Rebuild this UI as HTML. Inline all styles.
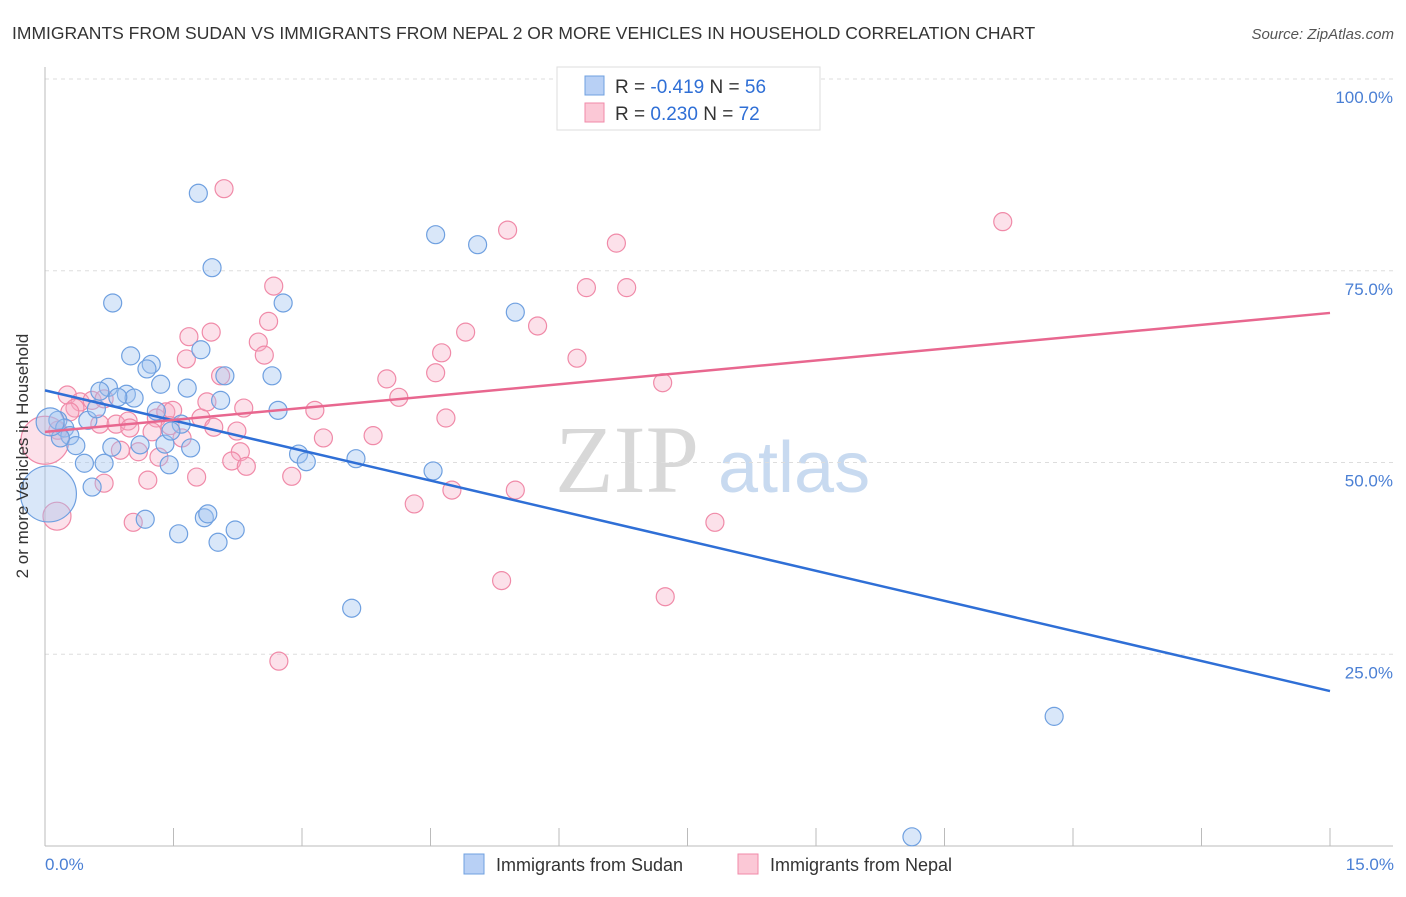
<!DOCTYPE html>
<html><head><meta charset="utf-8"><style>
body{margin:0;background:#fff;font-family:"Liberation Sans",sans-serif}
</style></head><body>
<svg id="c" width="1406" height="892" xmlns="http://www.w3.org/2000/svg">
<text x="12" y="39" font-size="17.5" fill="#333">IMMIGRANTS FROM SUDAN VS IMMIGRANTS FROM NEPAL 2 OR MORE VEHICLES IN HOUSEHOLD CORRELATION CHART</text>
<text x="1394" y="39" font-size="15" fill="#555" font-style="italic" text-anchor="end">Source: ZipAtlas.com</text>
<g><text x="555" y="492" font-size="96" font-family="Liberation Serif,serif" fill="#d8d8d8">ZIP</text><text x="718" y="492" font-size="72" fill="#c8daf0">atlas</text></g>
<g id="grid"></g><g id="axes"></g><g id="pts"></g><g id="lines"></g>
<text x="28" y="456" font-size="17" fill="#333" text-anchor="middle" transform="rotate(-90 28 456)">2 or more Vehicles in Household</text>
<text x="45" y="870" font-size="17" fill="#4a7fd4">0.0%</text>
<text x="1394" y="870" font-size="17" fill="#4a7fd4" text-anchor="end">15.0%</text>
<g>
<rect x="557" y="67" width="263" height="63" fill="#fff" stroke="#ddd"/>
<rect x="585" y="76" width="19" height="19" fill="#b8d0f5" stroke="#6fa0e0"/>
<rect x="585" y="103" width="19" height="19" fill="#fbc8d6" stroke="#f08aa8"/>
<text x="615" y="93" font-size="19" fill="#333">R = <tspan fill="#2f6fd6">-0.419</tspan>   N = <tspan fill="#2f6fd6">56</tspan></text>
<text x="615" y="120" font-size="19" fill="#333">R =  <tspan fill="#2f6fd6">0.230</tspan>   N = <tspan fill="#2f6fd6">72</tspan></text>
</g>
<g>
<rect x="464" y="854" width="20" height="20" fill="#b8d0f5" stroke="#6fa0e0"/>
<text x="496" y="871" font-size="18" fill="#333">Immigrants from Sudan</text>
<rect x="738" y="854" width="20" height="20" fill="#fbc8d6" stroke="#f08aa8"/>
<text x="770" y="871" font-size="18" fill="#333">Immigrants from Nepal</text>
</g>
</svg>
<script>
const yTicks=[25,50,75,100];
const yTickLabels=["25.0%","50.0%","75.0%","100.0%"];
const xTicks=[0,1.5,3,4.5,6,7.5,9,10.5,12,13.5,15];
const sudanX=[1.79,1.95,0.79,2.78,4.56,5.05,5.49,1.82,1.00,1.24,1.19,1.35,1.66,2.10,2.65,0.74,0.64,0.95,1.04,0.85,0.15,0.50,0.60,1.30,0.23,0.29,0.36,0.18,0.78,1.11,1.40,1.59,1.70,1.47,0.46,0.69,1.45,2.05,2.72,2.96,3.05,3.63,4.53,0.55,1.17,1.56,1.86,1.90,2.02,2.22,3.58,11.78,10.12,0.04,0.06];
const sudanY=[85.1,75.4,70.8,70.8,79.7,78.4,69.6,64.7,63.9,62.8,62.2,60.2,59.7,61.3,61.3,59.8,59.3,58.9,58.4,58.5,55.5,55.5,57.0,56.7,54.5,53.5,52.2,53.2,52.0,52.3,52.4,55.0,51.9,54.1,49.9,49.9,49.7,58.1,56.8,51.1,50.1,50.5,48.9,46.8,42.6,40.7,42.8,43.3,39.6,41.2,31.0,16.9,1.2,45.9,55.3];
const sudanR=[9,9,9,9,9,9,9,9,9,9,9,9,9,9,9,9,9,9,9,9,9,9,9,9,9,9,9,9,9,9,9,9,9,9,9,9,9,9,9,9,9,9,9,9,9,9,9,9,9,9,9,9,9,28,14];
const nepalX=[2.09,5.40,6.67,11.18,2.67,6.32,6.79,2.61,5.75,1.94,1.68,2.49,2.56,1.65,4.91,4.63,6.21,2.05,3.99,4.56,7.21,4.13,0.26,0.41,0.55,0.69,0.35,0.29,0.64,0.83,0.97,1.30,1.41,1.49,1.82,1.89,2.32,3.15,4.68,0.15,0.99,1.25,1.46,1.60,1.97,2.24,3.25,3.83,0.88,1.09,1.33,2.28,2.18,2.35,2.88,0.69,1.20,1.77,4.31,4.75,5.49,7.82,1.03,5.33,7.24,2.73,0.14,0.0];
const nepalY=[85.7,80.3,78.6,81.4,73.0,72.8,72.8,68.4,67.8,67.0,66.4,65.7,64.0,63.5,67.0,64.3,63.6,61.3,60.9,61.7,60.4,58.5,58.8,57.9,58.1,58.3,57.1,56.6,55.0,55.0,55.4,55.8,56.6,56.8,55.8,57.9,57.1,56.8,55.8,54.2,54.5,54.0,54.8,53.2,54.6,54.1,53.2,53.5,51.6,51.4,50.7,51.4,50.2,49.5,48.2,47.3,47.7,48.1,44.6,46.4,46.4,42.2,42.2,34.6,32.5,24.1,43.0,52.9];
const sudanTrend=[59.4,20.2];
const nepalTrend=[54.0,69.5];
const X0=45,X1=1330,Y0=846,YTOP=79;
const sx=v=>X0+(v-0)/15*(X1-X0);
const sy=v=>Y0-(v/100)*(Y0-YTOP);
const NS="http://www.w3.org/2000/svg";
function mk(t,a,p){const e=document.createElementNS(NS,t);for(const k in a)e.setAttribute(k,a[k]);p.appendChild(e);return e;}
const grid=document.getElementById('grid'),axes=document.getElementById('axes'),pts=document.getElementById('pts'),lines=document.getElementById('lines');
yTicks.forEach((t,i)=>{
 const l=mk('line',{x1:X0,x2:1393,y1:sy(t),y2:sy(t),stroke:'#ddd','stroke-dasharray':'4,4'},grid);
 
 
 const tx=mk('text',{x:1393,y:sy(t)+24,'font-size':17,fill:'#4a7fd4','text-anchor':'end'},grid);
 tx.textContent=yTickLabels[i];
 
 
});
const ax=mk('line',{x1:X0,x2:X0,y1:67,y2:Y0,stroke:'#bbb'},axes);


const bx=mk('line',{x1:X0,x2:1393,y1:Y0,y2:Y0,stroke:'#bbb'},axes);


xTicks.forEach(t=>{
 const k=mk('line',{x1:sx(t),x2:sx(t),y1:828,y2:Y0,stroke:'#bbb'},axes);
 
 
});
function series(X,Y,R,fill,stroke,name){
 X.forEach((x,i)=>{
  const c=mk('circle',{cx:sx(x),cy:sy(Y[i]),r:R?R[i]:9,fill:fill,stroke:stroke,'stroke-width':1.2},pts);
  
  
 });
}
series(nepalX,nepalY,nepalX.map((x,i)=>i==66?14:(i==67?24:9)),'rgba(245,170,195,0.35)','#f08aa8','nepal-point');
series(sudanX,sudanY,sudanR,'rgba(160,195,240,0.4)','#6fa0e0','sudan-point');
const bl=mk('line',{x1:sx(0),y1:sy(sudanTrend[0]),x2:sx(15),y2:sy(sudanTrend[1]),stroke:'#2f6fd6','stroke-width':2.5},lines);


const pl=mk('line',{x1:sx(0),y1:sy(nepalTrend[0]),x2:sx(15),y2:sy(nepalTrend[1]),stroke:'#e8678f','stroke-width':2.5},lines);


</script>
</body></html>
